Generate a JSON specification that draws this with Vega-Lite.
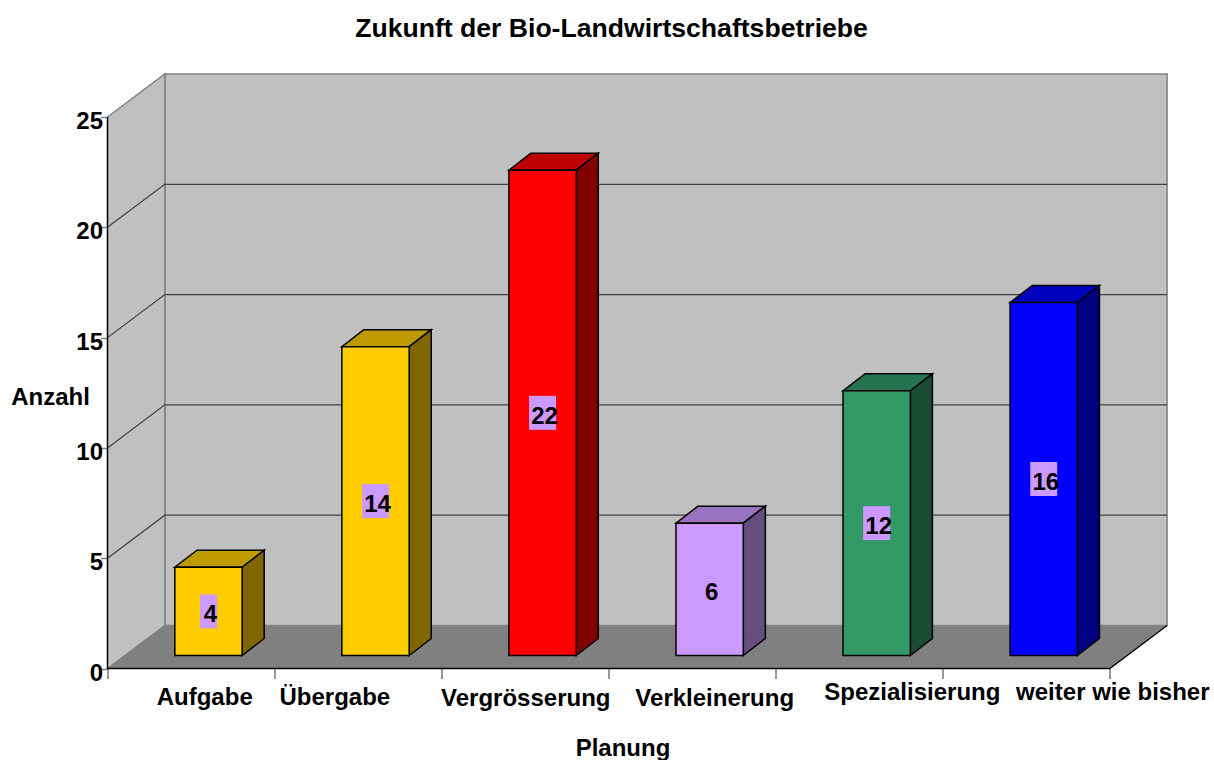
{
"$schema":"https://vega.github.io/schema/vega-lite/v6.json",
"autosize":{"type":"none"},
"padding":{"left":107.5,"top":74,"right":46.5,"bottom":91.5},
"width":1060,"height":594.5,
"background":"white",
"title":{"text":"Zukunft der Bio-Landwirtschaftsbetriebe","font":"Liberation Sans","fontSize":26.6,"fontWeight":"bold","color":"black","anchor":"middle","frame":"group","dx":-26,"offset":28},
"config":{"view":{"stroke":null},"font":"Liberation Sans"},
"params":[
{"name":"wallX","value":0.343},{"name":"wallY","value":1.95},
{"name":"barX","value":0.132},{"name":"barY","value":0.77},
{"name":"barLeft","value":0.403},{"name":"barW","value":0.403},{"name":"barBase","value":0.59}
],
"datasets":{
"bars":[
{"Planung":"Aufgabe","Anzahl":4},
{"Planung":"Übergabe","Anzahl":14},
{"Planung":"Vergrösserung","Anzahl":22},
{"Planung":"Verkleinerung","Anzahl":6},
{"Planung":"Spezialisierung","Anzahl":12},
{"Planung":"weiter wie bisher","Anzahl":16}
],
"levels":[{"level":0},{"level":5},{"level":10},{"level":15},{"level":20},{"level":25}]
},
"encoding":{
"x":{"field":"x","type":"quantitative","stack":null,"scale":{"domain":[0,6.3454],"nice":false,"zero":false},
"axis":{"values":[0,1,2,3,4,5,6],"grid":false,"domain":false,"labels":false,"ticks":true,"tickSize":10,"tickColor":"#333333","tickWidth":1,"title":"Planung","titleFont":"Liberation Sans","titleFontSize":24,"titleFontWeight":"bold","titleColor":"black","titleAnchor":"middle","titleBaseline":"alphabetic","titleX":515,"titleY":86.5}},
"y":{"field":"y","type":"quantitative","stack":null,"scale":{"domain":[0,26.95],"nice":false,"zero":false},
"axis":{"values":[0,5,10,15,20,25],"grid":false,"domain":false,"tickSize":7,"tickColor":"#808080","tickWidth":1.5,"labelFont":"Liberation Sans","labelFontSize":24,"labelFontWeight":"bold","labelColor":"black","labelPadding":-2,"labelOffset":4.5,"title":"Anzahl","titleFont":"Liberation Sans","titleFontSize":24,"titleFontWeight":"bold","titleColor":"black","titleAngle":0,"titleAlign":"center","titleBaseline":"alphabetic","titleX":-57.5,"titleY":330}}
},
"layer":[
{"data":{"name":"levels"},
"transform":[{"filter":"datum.level==25"},{"calculate":"wallX","as":"x"},{"calculate":"wallX+6","as":"xe"},{"calculate":"wallY","as":"y"},{"calculate":"25+wallY","as":"ye"}],
"mark":{"type":"rect","fill":"#C0C0C0","stroke":"#808080","strokeWidth":1.5},
"encoding":{"x2":{"field":"xe"},"y2":{"field":"ye"}}},
{"data":{"name":"levels"},
"transform":[{"filter":"datum.level==25"},{"calculate":"[0,1]","as":"t"},{"flatten":["t"]},{"calculate":"datum.t*wallX","as":"x"},{"calculate":"datum.t*wallY","as":"y"},{"calculate":"25+datum.t*wallY","as":"ye"}],
"mark":{"type":"area","fill":"#C0C0C0","stroke":"#808080","strokeWidth":1.5},
"encoding":{"y2":{"field":"ye"}}},
{"data":{"name":"levels"},
"transform":[{"filter":"datum.level==0"},{"calculate":"[0,1]","as":"t"},{"flatten":["t"]},{"calculate":"datum.t*wallX","as":"x"},{"calculate":"6+datum.t*wallX","as":"xe"},{"calculate":"datum.t*wallY","as":"y"}],
"mark":{"type":"area","orient":"horizontal","fill":"#808080"},
"encoding":{"x2":{"field":"xe"}}},
{"data":{"name":"levels"},
"transform":[{"filter":"datum.level>0 && datum.level<25"},{"calculate":"[0,1,2]","as":"t"},{"flatten":["t"]},{"calculate":"datum.t==0?0:(datum.t==1?wallX:wallX+6)","as":"x"},{"calculate":"datum.t==0?datum.level:datum.level+wallY","as":"y"}],
"mark":{"type":"line","stroke":"#404040","strokeWidth":1.2},
"encoding":{"detail":{"field":"level"},"order":{"field":"t"}}},
{"data":{"name":"levels"},
"transform":[{"filter":"datum.level==0"},{"calculate":"[0,1,2,3]","as":"t"},{"flatten":["t"]},{"calculate":"datum.t<2?0:(datum.t==2?6:6+wallX)","as":"x"},{"calculate":"datum.t==0?25:(datum.t==3?wallY:0)","as":"y"}],
"mark":{"type":"line","stroke":"black","strokeWidth":1.3},
"encoding":{"order":{"field":"t"}}},
{"data":{"name":"bars"},
"transform":[{"window":[{"op":"row_number","as":"n"}]},{"calculate":"[0,1]","as":"t"},{"flatten":["t"]},{"calculate":"datum.n-1+barLeft+datum.t*barX","as":"x"},{"calculate":"datum.x+barW","as":"xe"},{"calculate":"barBase+datum.Anzahl+datum.t*barY","as":"y"}],
"mark":{"type":"area","orient":"horizontal","stroke":"black","strokeWidth":1.5},
"encoding":{"x2":{"field":"xe"},"fill":{"field":"Planung","type":"nominal","legend":null,"sort":null,"scale":{"domain":["Aufgabe","Übergabe","Vergrösserung","Verkleinerung","Spezialisierung","weiter wie bisher"],"range":["#BF9900","#BF9900","#BF0000","#9973BF","#267350","#0000BF"]}}}},
{"data":{"name":"bars"},
"transform":[{"window":[{"op":"row_number","as":"n"}]},{"calculate":"[0,1]","as":"t"},{"flatten":["t"]},{"calculate":"datum.n-1+barLeft+barW+datum.t*barX","as":"x"},{"calculate":"barBase+datum.t*barY","as":"y"},{"calculate":"datum.y+datum.Anzahl","as":"ye"}],
"mark":{"type":"area","stroke":"black","strokeWidth":1.5},
"encoding":{"y2":{"field":"ye"},"fill":{"field":"Planung","type":"nominal","legend":null,"sort":null,"scale":{"domain":["Aufgabe","Übergabe","Vergrösserung","Verkleinerung","Spezialisierung","weiter wie bisher"],"range":["#806600","#806600","#800000","#664D80","#1A4D33","#000080"]}}}},
{"data":{"name":"bars"},
"transform":[{"window":[{"op":"row_number","as":"n"}]},{"calculate":"datum.n-1+barLeft","as":"x"},{"calculate":"datum.x+barW","as":"xe"},{"calculate":"barBase","as":"y"},{"calculate":"barBase+datum.Anzahl","as":"ye"}],
"mark":{"type":"rect","stroke":"black","strokeWidth":1.5},
"encoding":{"x2":{"field":"xe"},"y2":{"field":"ye"},"fill":{"field":"Planung","type":"nominal","legend":null,"sort":null,"scale":{"domain":["Aufgabe","Übergabe","Vergrösserung","Verkleinerung","Spezialisierung","weiter wie bisher"],"range":["#FFCC00","#FFCC00","#FF0000","#CC99FF","#339966","#0000FF"]}}}},
{"data":{"name":"bars"},
"transform":[{"window":[{"op":"row_number","as":"n"}]},{"calculate":"(datum.Anzahl<10?8.5:13.5)/167.05","as":"hw"},{"calculate":"datum.n-1+barLeft+barW/2-datum.hw","as":"x"},{"calculate":"datum.x+2*datum.hw","as":"xe"},{"calculate":"barBase+datum.Anzahl/2-0.77","as":"y"},{"calculate":"datum.y+1.54","as":"ye"}],
"mark":{"type":"rect","fill":"#CC99FF"},
"encoding":{"x2":{"field":"xe"},"y2":{"field":"ye"}}},
{"data":{"name":"bars"},
"transform":[{"window":[{"op":"row_number","as":"n"}]},{"calculate":"datum.n-1+barLeft+barW/2","as":"x"},{"calculate":"barBase+datum.Anzahl/2","as":"y"}],
"mark":{"type":"text","font":"Liberation Sans","fontSize":24,"fontWeight":"bold","fill":"black","align":"center","baseline":"middle","dx":2,"dy":4},
"encoding":{"text":{"field":"Anzahl","type":"quantitative"}}},
{"data":{"name":"bars"},
"transform":[{"calculate":"{'Aufgabe':0.582,'Übergabe':1.361,'Vergrösserung':2.504,'Verkleinerung':3.635,'Spezialisierung':4.818,'weiter wie bisher':6.018}[datum.Planung]","as":"x"},{"calculate":"{'Aufgabe':-1.66,'Übergabe':-1.66,'Vergrösserung':-1.7,'Verkleinerung':-1.7,'Spezialisierung':-1.43,'weiter wie bisher':-1.43}[datum.Planung]","as":"y"}],
"mark":{"type":"text","font":"Liberation Sans","fontSize":24,"fontWeight":"bold","fill":"black","align":"center","baseline":"alphabetic"},
"encoding":{"text":{"field":"Planung","type":"nominal"}}}
],
"resolve":{"scale":{"fill":"independent"}}
}
